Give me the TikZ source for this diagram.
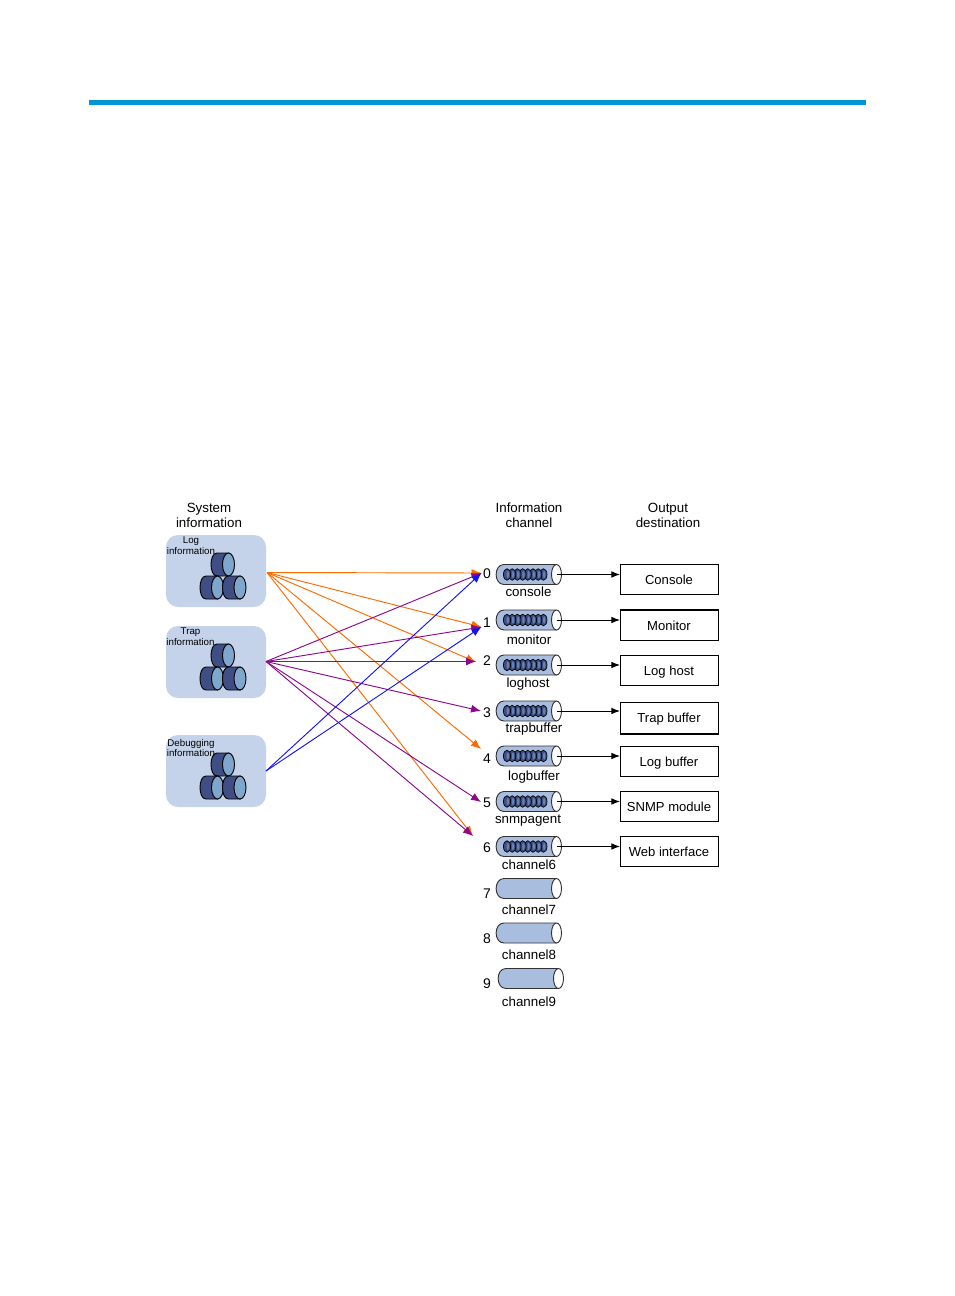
\documentclass[tikz,border=0pt]{standalone}
\usepackage{fontspec}
\setmainfont{Liberation Sans}
\usetikzlibrary{arrows.meta}
\definecolor{barblue}{HTML}{0096D6}
\definecolor{panel}{HTML}{C5D3EA}
\definecolor{drumdark}{HTML}{3F4F86}
\definecolor{drumlight}{HTML}{7FA6CC}
\definecolor{chanbody}{HTML}{A9BDDF}
\definecolor{arrorange}{HTML}{FF6A00}
\definecolor{arrpurple}{HTML}{8A0A8A}
\definecolor{arrblue}{HTML}{1414F0}
\tikzset{
  x=0.75pt,y=-0.75pt,
  panelbox/.style={draw=none,fill=panel,rounded corners=9pt,minimum width=75pt,minimum height=54pt,inner sep=0pt},
  head/.style={font=\fontsize{10pt}{11pt}\selectfont,align=center,inner sep=0pt},
  small/.style={font=\fontsize{7.3pt}{8.2pt}\selectfont,align=center,inner sep=0pt},
  chanlabel/.style={font=\fontsize{10pt}{11pt}\selectfont,inner sep=0pt},
  digit/.style={font=\fontsize{10.5pt}{11pt}\selectfont,inner sep=0pt},
  destbox/.style={draw=black,line width=0.75pt,fill=white,minimum width=73.5pt,minimum height=23.2pt,inner sep=0pt,text height=7.2pt,text depth=0pt,font=\fontsize{9.8pt}{11pt}\selectfont},
  outarrow/.style={draw=black,line width=0.7pt,-{Latex[length=6.5pt,width=5pt]}},
  feed/.style={line width=0.7pt,-{Latex[length=7.5pt,width=6pt]}},
  orangefeed/.style={feed,draw=arrorange},
  purplefeed/.style={feed,draw=arrpurple},
  bluefeed/.style={feed,draw=arrblue},
}
% one drum: #1,#2 = left edge, centre y
\newcommand{\onedrum}[2]{%
  \fill[drumdark,draw=black,line width=0.7pt] (#1+6,#2-11.5) -- (#1+18,#2-11.5) -- (#1+18,#2+11.5) -- (#1+6,#2+11.5) .. controls (#1-2,#2+11.5) and (#1-2,#2-11.5) .. (#1+6,#2-11.5) -- cycle;
  \fill[drumlight,draw=black,line width=0.7pt] (#1+17.5,#2) ellipse[x radius=6,y radius=11.5];
}
% the drum stack: #1,#2 = panel left/top
\newcommand{\drumstack}[2]{%
  \onedrum{#1+45}{#2+29.5}
  \onedrum{#1+34}{#2+52.5}
  \onedrum{#1+56.5}{#2+52.5}
}
% channel tube: #1 left x, #2 centre y
\newcommand{\tube}[2]{%
  \fill[chanbody,draw=black!80,line width=0.7pt] (#1+8,#2-10) -- (#1+60,#2-10) -- (#1+60,#2+10) -- (#1+8,#2+10) .. controls (#1-2.5,#2+10) and (#1-2.5,#2-10) .. (#1+8,#2-10) -- cycle;
  \fill[white,draw=black!80,line width=0.7pt] (#1+60.5,#2) ellipse[x radius=5,y radius=10];
}
% queued packets in a tube
\newcommand{\rolls}[2]{%
  \foreach \k in {7,6,...,0}{
    \fill[drumdark,draw=black,line width=0.5pt] (#1+11+\k*5.2,#2) ellipse[x radius=3.6,y radius=5.8];
    \fill[drumlight!60!drumdark,draw=none] (#1+11.8+\k*5.2,#2) ellipse[x radius=1.2,y radius=3.6];
  }
}
\begin{document}
\begin{tikzpicture}
\useasboundingbox (0,0) rectangle (954,1296);
\fill[white] (0,0) rectangle (954,1296);
\fill[barblue] (89,100) rectangle (866,105);

% headings
\node[head] (hsys) at (209,515.5) {System\\information};
\node[head] (hchan) at (529,515.5) {Information\\channel};
\node[head] (hdest) at (668,515.5) {Output\\destination};

% source panels
\node[panelbox] (logpanel) at (216,571) {};
\node[panelbox] (trappanel) at (216,662) {};
\node[panelbox] (debugpanel) at (216,771) {};
\drumstack{166}{535}
\drumstack{166}{626}
\drumstack{166}{735}
\node[small] (logtext) at (191,546) {Log\\information};
\node[small] (traptext) at (190.5,637) {Trap\\information};
\node[small] (debugtext) at (191,748) {Debugging\\information};

% channels
\tube{496}{574.5}\rolls{496}{574.5}
\tube{496}{620}\rolls{496}{620}
\tube{496}{665}\rolls{496}{665}
\tube{496}{711}\rolls{496}{711}
\tube{496}{756}\rolls{496}{756}
\tube{496}{801.5}\rolls{496}{801.5}
\tube{496}{846.5}\rolls{496}{846.5}
\tube{496}{888.5}
\tube{496}{933}
\tube{498}{978.5}

\foreach \n/\yy in {0/574.5,1/620,2/665,3/711,4/756,5/801.5,6/846.5}
  \coordinate (tube\n) at (556.5,\yy);

\node[digit] (d0) at (487,573.5) {0};
\node[digit] (d1) at (487,622.5) {1};
\node[digit] (d2) at (487,660.5) {2};
\node[digit] (d3) at (487,712.5) {3};
\node[digit] (d4) at (487,758.5) {4};
\node[digit] (d5) at (487,802.5) {5};
\node[digit] (d6) at (487,847.5) {6};
\node[digit] (d7) at (487,893.5) {7};
\node[digit] (d8) at (487,938.5) {8};
\node[digit] (d9) at (487,983.5) {9};

\node[chanlabel] (l0) at (528.5,592) {console};
\node[chanlabel] (l1) at (529,639.5) {monitor};
\node[chanlabel] (l2) at (528,684) {loghost};
\node[chanlabel] (l3) at (534,729.5) {trapbuffer};
\node[chanlabel] (l4) at (534,777) {logbuffer};
\node[chanlabel] (l5) at (528,820.5) {snmpagent};
\node[chanlabel] (l6) at (529,865) {channel6};
\node[chanlabel] (l7) at (529,910) {channel7};
\node[chanlabel] (l8) at (529,955) {channel8};
\node[chanlabel] (l9) at (529,1002) {channel9};

% destinations
\node[destbox] (console) at (669,579.5) {Console};
\node[destbox] (monitor) at (669,625.5) {Monitor};
\node[destbox] (loghost) at (669,670.5) {Log host};
\node[destbox] (trapbuf) at (669,718) {Trap buffer};
\node[destbox] (logbuf) at (669,761.5) {Log buffer};
\node[destbox] (snmp) at (669,806.5) {SNMP module};
\node[destbox] (web) at (669,851.5) {Web interface};
\draw[line width=1.2pt] (monitor.north west) -- (monitor.north east);
\draw[line width=1.2pt] (trapbuf.south west) -- (trapbuf.south east);

\coordinate (in0) at (620,574.5);
\coordinate (in1) at (620,620);
\coordinate (in2) at (620,665);
\coordinate (in3) at (620,711);
\coordinate (in4) at (620,756);
\coordinate (in5) at (620,801.5);
\coordinate (in6) at (620,846.5);
\foreach \n in {0,...,6} \draw[outarrow] (tube\n) -- (in\n);

% feed end points
\coordinate (logout) at (267,572.5);
\coordinate (trapout) at (266,661.5);
\coordinate (debugout) at (266,771);
\coordinate (t0) at (481.5,573);
\coordinate (t1) at (481.5,627);
\coordinate (t2) at (476,661.5);
\coordinate (t2o) at (476,662);
\coordinate (t3) at (481,711);
\coordinate (t4) at (481,749);
\coordinate (t5) at (481,802);
\coordinate (t6) at (473,836);

\foreach \t in {t0,t1,t2o,t4,t6} \draw[orangefeed] (logout) -- (\t);
\foreach \t in {t0,t1,t2,t3,t5,t6} \draw[purplefeed] (trapout) -- (\t);
\foreach \t in {t0,t1} \draw[bluefeed] (debugout) -- (\t);
\end{tikzpicture}
\end{document}
